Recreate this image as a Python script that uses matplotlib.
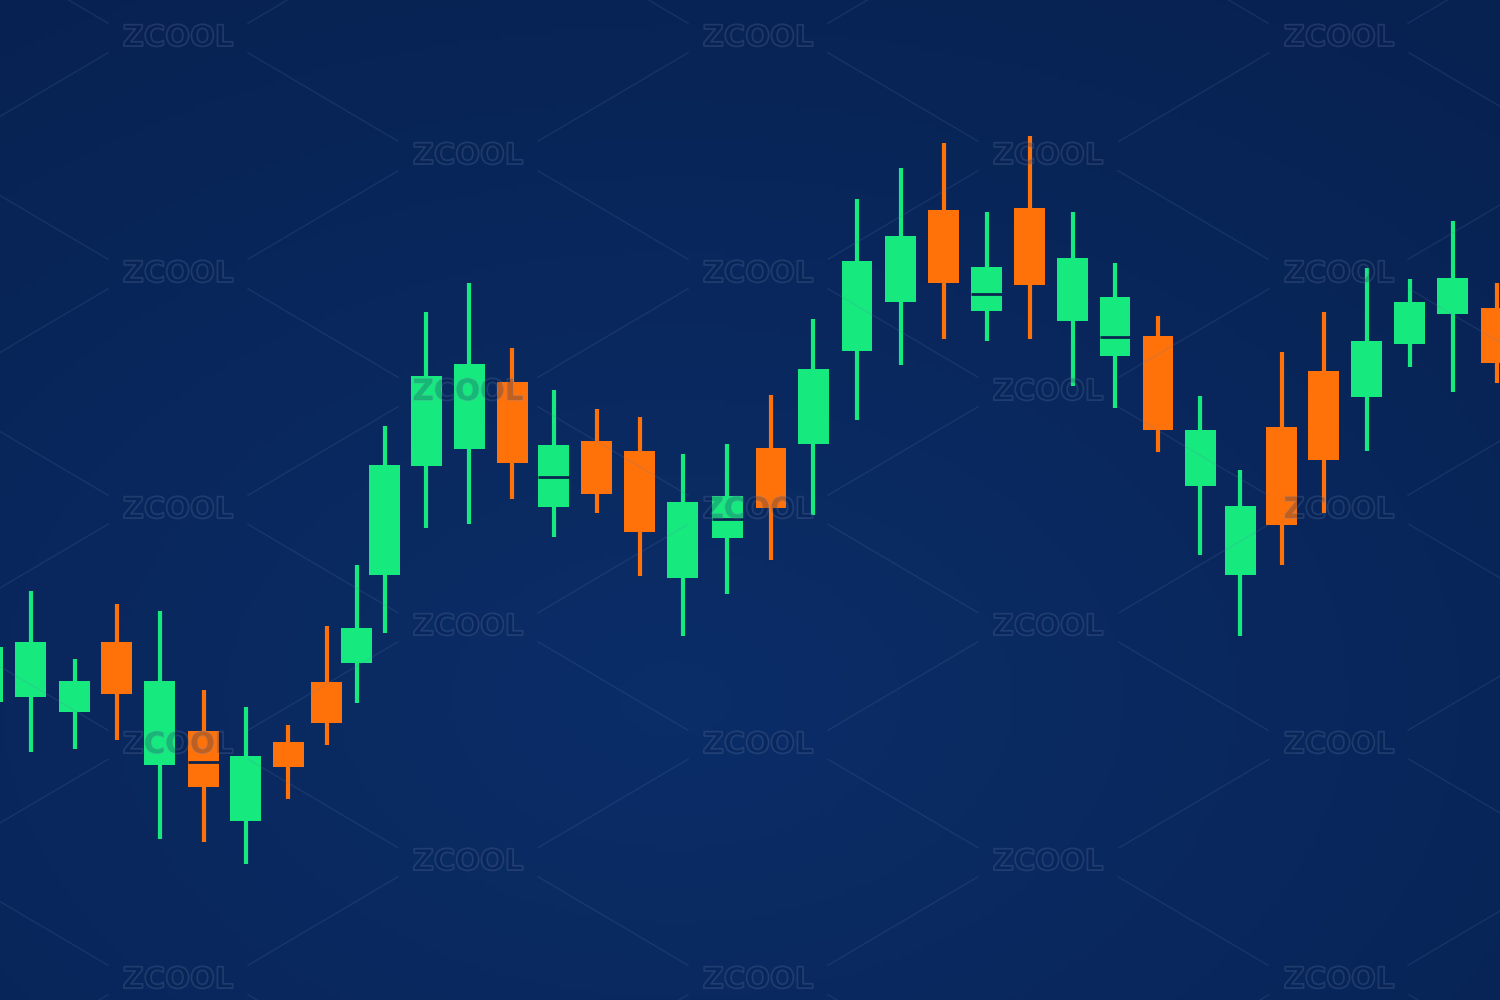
import numpy as np
import matplotlib
matplotlib.use("Agg")
import matplotlib.pyplot as plt
import matplotlib.patheffects as pe

# ---- data ----
# time in sessions, prices in arbitrary units
t = [-0.28, 0.72, 1.74, 2.72, 3.72, 4.74, 5.72, 6.70, 7.60, 8.30, 8.95, 9.91,
     10.91, 11.91, 12.88, 13.88, 14.88, 15.88, 16.91, 17.93, 18.91, 19.93,
     20.95, 21.95, 22.95, 23.95, 24.95, 25.93, 26.93, 27.91, 28.84, 29.81,
     30.79, 31.79, 32.79, 33.79, 34.81]
open_ = [29.8, 30.3, 28.8, 35.8, 23.5, 26.9, 17.9, 25.8, 31.8, 33.7, 42.5, 53.4,
         55.1, 61.8, 49.3, 55.9, 54.9, 42.2, 46.2, 55.2, 55.6, 64.9,
         69.8, 79.0, 68.9, 79.2, 67.9, 64.4, 66.4, 51.4, 42.5, 57.3,
         62.9, 60.3, 65.6, 68.6, 69.2]
close = [35.3, 35.8, 31.9, 30.6, 31.9, 21.3, 24.4, 23.3, 27.7, 37.2, 53.5, 62.4,
         63.6, 53.7, 55.5, 50.6, 46.8, 49.8, 50.4, 49.2, 63.1, 73.9,
         76.4, 71.7, 73.3, 71.5, 74.2, 70.3, 57.0, 57.0, 49.4, 47.5,
         54.0, 65.9, 69.8, 72.2, 63.7]
high = [40.0, 40.9, 34.1, 39.6, 38.9, 31.0, 29.3, 27.5, 37.4, 43.5, 57.4, 68.8,
        71.7, 65.2, 61.0, 59.1, 58.3, 54.6, 55.6, 60.5, 68.1, 80.1,
        83.2, 85.7, 78.8, 86.4, 78.8, 73.7, 68.4, 60.4, 53.0, 64.8,
        68.8, 73.2, 72.1, 77.9, 71.7]
low = [26.0, 24.8, 25.1, 26.0, 16.1, 15.8, 13.6, 20.1, 25.5, 29.7, 36.7, 47.2,
       47.6, 50.1, 46.3, 48.7, 42.4, 36.4, 40.6, 44.0, 48.5, 58.0,
       63.5, 66.1, 65.9, 66.1, 61.4, 59.2, 54.8, 44.5, 36.4, 43.5,
       48.7, 54.9, 63.3, 60.8, 61.7]
# level of the thin dark split seen inside some bodies (nan = none)
split = [np.nan, np.nan, np.nan, np.nan, np.nan, 23.8, np.nan, np.nan, np.nan, np.nan, np.nan, np.nan,
         np.nan, np.nan, 52.3, np.nan, np.nan, np.nan, 48.1, np.nan, np.nan, np.nan,
         np.nan, np.nan, 70.6, np.nan, np.nan, 66.3, np.nan, np.nan, np.nan, np.nan,
         np.nan, np.nan, np.nan, np.nan, np.nan]

GREEN = "#16EA7E"
ORANGE = "#FF720A"
BG_SPLIT = "#0A2550"

fig = plt.figure(figsize=(15, 10), dpi=100)
ax = fig.add_axes([0, 0, 1, 1])
x0, x1 = 0, 1500 / 43
y0, y1 = 0, 100
ax.set_xlim(x0, x1)
ax.set_ylim(y0, y1)
ax.axis("off")

# background: navy with soft vignette
ny, nx = 200, 300
yy, xx = np.mgrid[0:1:ny * 1j, 0:1:nx * 1j]
r = np.sqrt(((xx - 0.45) / 0.9) ** 2 + ((yy - 0.30) / 0.9) ** 2)
c_center = np.array([0x0B, 0x2D, 0x68]) / 255
c_edge = np.array([0x07, 0x21, 0x50]) / 255
w = np.clip(r, 0, 1)[..., None]
img = c_center * (1 - w) + c_edge * w
ax.imshow(img, extent=[x0, x1, y1, y0], aspect="auto", zorder=0, origin="upper")

# watermark lattice lines & text
rows_y = [38, 156, 274, 392, 510, 627, 745, 862, 980]
marks = []
for i, ry in enumerate(rows_y):
    xs = [178, 758, 1339] if i % 2 == 0 else [468, 1048]
    for mx in xs:
        marks.append((mx, ry))
rows_y_ext = [-80] + rows_y + [1098]
for i, ry in enumerate([-80] + rows_y):
    xs = [-112, 468, 1048, 1628] if i % 2 == 0 else [178, 758, 1339]
    nxt = rows_y_ext[i + 1]
    for mx in xs:
        for dx in (-290, 290):
            mxp, myp = (mx + mx + dx) / 2, (ry + nxt) / 2
            s = 0.59 if dx > 0 else -0.59
            xa, xb = mxp - 75, mxp + 75
            ya, yb = myp - s * 75, myp + s * 75
            ax.plot([xa / 1500, xb / 1500], [1 - ya / 1000, 1 - yb / 1000],
                    transform=ax.transAxes, color="#5C7AAA", alpha=0.18,
                    lw=1.0, zorder=5)

# candles
for ti, o, c, h, l, sp in zip(t, open_, close, high, low, split):
    col = GREEN if c >= o else ORANGE
    ax.vlines(ti, l, h, color=col, lw=3.0, zorder=2)
    ax.bar(ti, abs(c - o), bottom=min(o, c), width=0.72, color=col,
           edgecolor="none", zorder=3)
    if not np.isnan(sp):
        ax.hlines(sp, ti - 0.36, ti + 0.36, color=BG_SPLIT, lw=2.0, zorder=4)

for mx, my in marks:
    ax.text(mx / 1500, 1 - my / 1000, "ZCOOL", transform=ax.transAxes,
            ha="center", va="center", fontsize=21, fontweight="heavy",
            color=(0.03, 0.12, 0.30, 0.12), zorder=6,
            path_effects=[pe.Stroke(linewidth=1.3, foreground=(0.42, 0.52, 0.70, 0.25)),
                          pe.Normal()])

fig.savefig("out.png", dpi=100)
